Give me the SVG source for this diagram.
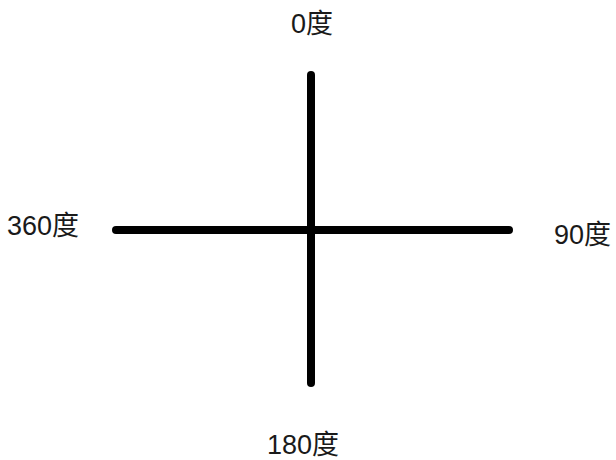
<svg xmlns="http://www.w3.org/2000/svg" width="616" height="460" viewBox="0 0 616 460">
<style>
.ln{stroke:#000;stroke-width:8;stroke-linecap:round;fill:none}
.lb{font-family:"Liberation Sans","Noto Sans CJK SC",sans-serif;font-size:27px;fill:#1a1a1a}
</style>
<rect width="616" height="460" fill="#fff"/>
<g id="connectors">
<line class="ln" x1="311" y1="75" x2="311" y2="383"/>
<line class="ln" x1="116" y1="230" x2="509" y2="230"/>
</g>
<g id="n0"><text class="lb" x="291" y="33">0度</text></g>
<g id="n360"><text class="lb" x="7" y="235">360度</text></g>
<g id="n90"><text class="lb" x="554" y="244">90度</text></g>
<g id="n180"><text class="lb" x="267" y="454">180度</text></g>
</svg>
